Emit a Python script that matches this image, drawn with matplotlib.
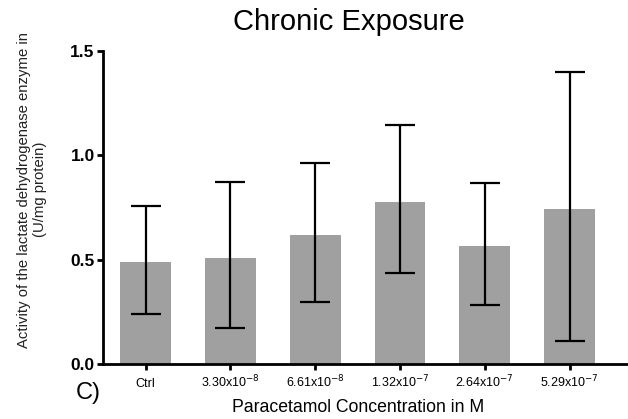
import matplotlib
matplotlib.use("Agg")
import matplotlib.pyplot as plt

plt.rcParams['font.family'] = ['Liberation Sans', 'DejaVu Sans']

# данные
labels = ['Ctrl', r'3.30x10$^{-8}$', r'6.61x10$^{-8}$', r'1.32x10$^{-7}$',
          r'2.64x10$^{-7}$', r'5.29x10$^{-7}$']
means = [0.486, 0.508, 0.617, 0.776, 0.563, 0.743]
err_low = [0.238, 0.171, 0.294, 0.435, 0.280, 0.110]
err_high = [0.758, 0.870, 0.961, 1.145, 0.868, 1.400]

fig = plt.figure(figsize=(6.28, 4.19), dpi=100)
ax = fig.add_axes([0.164, 0.132, 0.836, 0.746])

x = list(range(len(labels)))
yerr = [[m - lo for m, lo in zip(means, err_low)],
        [hi - m for m, hi in zip(means, err_high)]]
ax.bar(x, means, width=0.6, color='#a0a0a0', zorder=1)
ax.errorbar(x, means, yerr=yerr, fmt='none', ecolor='black', elinewidth=1.6,
            capsize=10.5, capthick=1.6, zorder=2)

ax.set_xlim(-0.504, 5.69)
ax.set_ylim(0, 1.5)
ax.set_yticks([0.0, 0.5, 1.0, 1.5])
ax.set_yticklabels(['0.0', '0.5', '1.0', '1.5'], fontweight='bold', fontsize=12.5)
ax.set_xticks(x)
ax.set_xticklabels(labels, fontsize=9, va='baseline')

for s in ['top', 'right']:
    ax.spines[s].set_visible(False)
for s in ['left', 'bottom']:
    ax.spines[s].set_linewidth(2)
ax.tick_params(axis='both', width=2, length=4, pad=2)
ax.tick_params(axis='x', pad=13)

fig.text(0.051, 0.547, 'Activity of the lactate dehydrogenase enzyme in\n(U/mg protein)',
         fontsize=10.7, color='#222222', rotation=90, ha='center', va='center',
         multialignment='center')
ax.set_xlabel('Paracetamol Concentration in M', fontsize=12.7, labelpad=6)
ax.xaxis.label.set_x(0.486)
fig.text(0.556, 0.947, 'Chronic Exposure', fontsize=21, ha='center', va='center')
fig.text(0.12, 0.062, 'C)', fontsize=17, ha='left', va='center')

fig.savefig('out.png', dpi=100)
